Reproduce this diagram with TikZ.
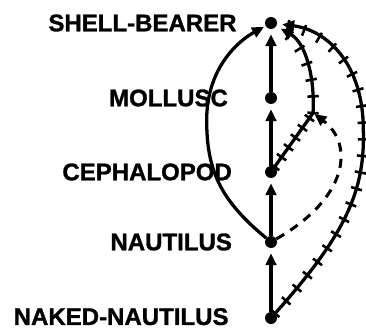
\documentclass[tikz,border=0pt]{standalone}
\usepackage{fontspec}
\setmainfont{Liberation Sans}
\newfontfamily\tagfont[BoldFeatures={FakeBold=1.2}]{Liberation Sans}
\usetikzlibrary{positioning, arrows.meta, decorations.pathreplacing}

\begin{document}
\begin{tikzpicture}[
        vertex/.style={circle, fill=black, inner sep=0pt, minimum size=0.36cm},
        tag/.style={inner sep=0pt, font=\tagfont\bfseries\fontsize{20.5}{24}\selectfont},
        isa/.style={-{Triangle[length=0.36cm, width=0.32cm]}, line width=2.8pt, shorten >=0.15cm},
        hatched/.style={isa, postaction={draw, -, shorten >=0pt, line width=2.2pt, decorate, decoration={ticks, segment length=#1, amplitude=0.17cm}}},
        hatched/.default=0.5cm,
        dashedlink/.style={isa, line width=2.6pt, dash pattern=on 0.27cm off 0.22cm}
    ]
    \useasboundingbox (0,0) rectangle (10.98,9.9);

    % Spine
    \node[vertex] (sb) at (8.13, 9.21) {};
    \node[vertex] (mo) at (8.13, 6.96) {};
    \node[vertex] (ce) at (8.13, 4.74) {};
    \node[vertex] (na) at (8.13, 2.64) {};
    \node[vertex] (nn) at (8.13, 0.36) {};

    % Labels
    \node[tag, left=0.84cm of sb] {SHELL-BEARER};
    \node[tag, left=1.1cm of mo] {MOLLUSC};
    \node[tag, left=0.98cm of ce] {CEPHALOPOD};
    \node[tag, left=0.98cm of na] {NAUTILUS};
    \node[tag, left=1.08cm of nn, yshift=0.04cm] {NAKED-NAUTILUS};

    % IS-A links
    \draw[isa] (nn) -- (na);
    \draw[isa] (na) -- (ce);
    \draw[isa] (ce) -- (mo);
    \draw[isa] (mo) -- (sb);
    \draw[isa, shorten >=0.05cm] (na) .. controls (6.6,3.9) and (6.2,4.8) .. (6.2,6.3)
        .. controls (6.2,7.9) and (7.2,8.7) .. (sb);

    % IS-NOT links
    \coordinate (k) at (9.39, 6.51);
    \draw[hatched=0.36cm, -, shorten >=0pt] (ce) -- (k);
    \draw[hatched] (k) .. controls (9.45,7.5) and (9.2,8.6) .. (sb);
    \draw[hatched] (nn) .. controls (10.4,2.9) and (10.95,4.2) .. (10.9,6.0)
        .. controls (10.9,8.0) and (9.8,9.0) .. (sb);

    % Exception
    \draw[dashedlink, shorten >=0.05cm] (na) .. controls (10.5,4.0) and (10.6,5.6) .. (k);
\end{tikzpicture}
\end{document}
